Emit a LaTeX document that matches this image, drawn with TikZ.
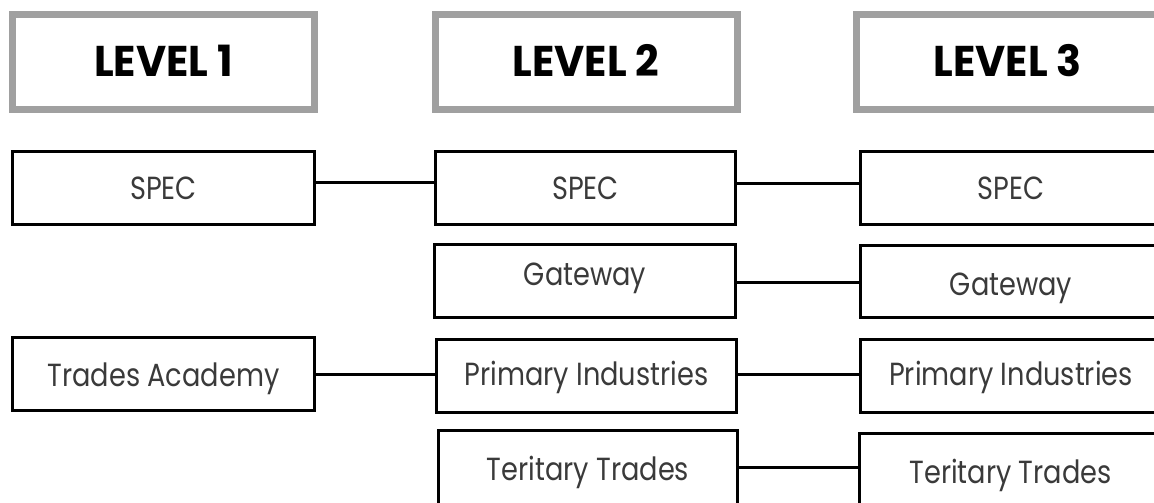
\documentclass[tikz,border=0pt]{standalone}
\usepackage{fontspec}
\usepackage{graphicx}
\setmainfont{Poppins}
\definecolor{hdrgray}{HTML}{A0A0A0}
\definecolor{txtgray}{HTML}{3A3A3A}
\newcommand\hdrtext[1]{\scalebox{0.96}[1]{\bfseries #1}}
\newcommand\bxtext[1]{\scalebox{0.85}[1]{#1}}
\begin{document}
\begin{tikzpicture}[x=1pt,y=-1pt,
  hdr/.style={draw=hdrgray, line width=7pt, minimum width=302pt, minimum height=95pt,
    inner sep=0pt, text height=30pt, text depth=0pt, font=\fontsize{43}{50}\selectfont},
  bx/.style={draw=black, line width=2.8pt, minimum width=301pt, minimum height=73.5pt,
    inner sep=0pt, text height=22.4pt, text depth=0pt, text=txtgray, font=\fontsize{32}{38}\selectfont},
  conn/.style={draw=black, line width=3pt}]
\useasboundingbox (0,0) rectangle (1154,503);
\clip (0,0) rectangle (1154,503);
% headers
\node[hdr] (h1) at (163.5,62) {\hdrtext{LEVEL 1}};
\node[hdr] (h2) at (586,62) {\hdrtext{LEVEL 2}};
\node[hdr] (h3) at (1007.5,62) {\hdrtext{LEVEL 3}};
% row 1
\node[bx, minimum width=302.5pt] (s1) at (163.5,188) {\bxtext{SPEC}};
\node[bx, minimum width=300.5pt] (s2) at (585.5,188) {\bxtext{SPEC}};
\node[bx] (s3) at (1011,188) {\bxtext{SPEC}};
% row 2
\node[bx, minimum width=301.5pt] (g2) at (585,281) {\raisebox{7pt}{\bxtext{Gateway}}};
\node[bx, minimum height=72.5pt] (g3) at (1011,281.5) {\raisebox{-2.5pt}{\bxtext{Gateway}}};
% row 3
\node[bx, minimum width=302.5pt] (t1) at (163.5,374) {\raisebox{-1pt}{\bxtext{Trades Academy}}};
\node[bx, minimum width=300.5pt] (p2) at (586.5,376) {\raisebox{2pt}{\bxtext{Primary Industries}}};
\node[bx] (p3) at (1011,376) {\raisebox{2pt}{\bxtext{Primary Industries}}};
% row 4
\node[bx, minimum width=299.5pt, minimum height=88.5pt] (tt2) at (588,474.5) {\raisebox{5.5pt}{\bxtext{Teritary Trades}}};
\node[bx, minimum width=302.5pt, minimum height=85.5pt] (tt3) at (1010.5,476) {\raisebox{4pt}{\bxtext{Teritary Trades}}};
% connectors
\draw[conn] (s1.east |- 0,182) -- (s2.west |- 0,182);
\draw[conn] (s2.east |- 0,183) -- (s3.west |- 0,183);
\draw[conn] (g2.east |- 0,282) -- (g3.west |- 0,282);
\draw[conn] (t1.east |- 0,374) -- (p2.west |- 0,374);
\draw[conn] (p2.east |- 0,374) -- (p3.west |- 0,374);
\draw[conn] (tt2.east |- 0,467) -- (tt3.west |- 0,467);
\end{tikzpicture}
\end{document}
